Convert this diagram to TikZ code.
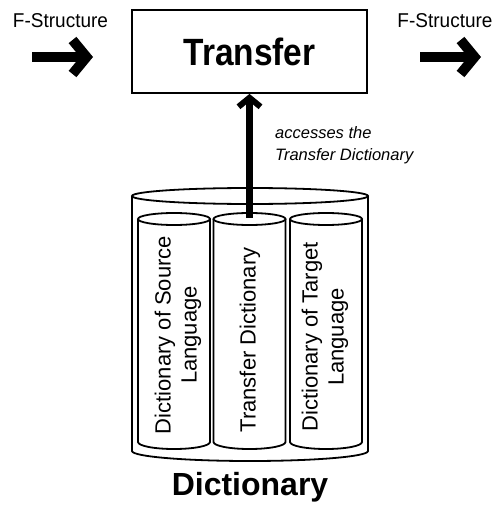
\documentclass[tikz,border=0pt]{standalone}
\usepackage{fontspec}
\setmainfont{Liberation Sans}
\usetikzlibrary{arrows.meta}

\tikzset{
  outline/.style={line width=1.8pt},
  titlebox/.style={draw, outline, minimum width=235pt, minimum height=83pt,
    inner sep=0pt, font=\fontsize{38}{40}\selectfont\bfseries},
  flabel/.style={font=\fontsize{20}{22}\selectfont, inner sep=0pt, anchor=base},
  fatarrow/.style={line width=10pt,
    -{Straight Barb[length=14pt, width=34pt, line width=10pt]}},
  lookup/.style={line width=7pt,
    -{Straight Barb[length=9pt, width=22pt, line width=6pt]}},
  spine/.style={rotate=90, align=center, inner sep=0pt,
    font=\fontsize{22}{26}\selectfont},
  note/.style={font=\fontsize{16.5}{22}\selectfont\itshape, align=left,
    inner sep=0pt, anchor=base west},
  biglabel/.style={font=\fontsize{32}{34}\selectfont\bfseries, inner sep=0pt,
    anchor=base},
  drum/.style={outline, fill=white}
}

\begin{document}
\begin{tikzpicture}[x=1pt, y=-1pt]
  \useasboundingbox[fill=white] (0,0) rectangle (499,508);

  % Transfer stage
  \node[titlebox] (transfer) at (249.5,51.5) {\scalebox{0.88}[1]{Transfer}};

  % incoming and outgoing F-structures
  \node[flabel] (fin)  at (60.5,28) {\scalebox{0.95}[1]{F-Structure}};
  \node[flabel] (fout) at (445,28)  {\scalebox{0.95}[1]{F-Structure}};
  \coordinate (inA)  at (32,57);
  \coordinate (inB)  at (93,57);
  \coordinate (outA) at (420,57);
  \coordinate (outB) at (481,57);
  \draw[fatarrow] (inA) -- (inB);
  \draw[fatarrow] (outA) -- (outB);

  % outer dictionary drum
  \draw[drum] (132,196) -- (132,451)
    arc[start angle=180, end angle=360, x radius=118pt, y radius=10pt]
    -- (368,196);
  \draw[outline] (250,196) ellipse[x radius=118pt, y radius=8pt];

  % three inner dictionaries
  \foreach \cx/\nm in {174/src, 249.5/mid, 326/tgt}{
    \draw[drum] (\cx-36,219) -- (\cx-36,442)
      arc[start angle=180, end angle=360, x radius=36pt, y radius=7pt]
      -- (\cx+36,219);
    \draw[drum] (\cx,219) ellipse[x radius=36pt, y radius=6pt];
    \coordinate (\nm top) at (\cx,218);
  }

  \node[spine] (srcdict) at (178,335) {Dictionary of Source\\Language};
  \node[spine] (middict) at (250,340) {Transfer Dictionary};
  \node[spine] (tgtdict) at (325,337) {Dictionary of Target\\Language};

  % lookup into the transfer dictionary
  \draw[lookup] (midtop) -- (transfer.south);
  % base anchor of a two-line node sits on its last line
  \node[note] (access) at (275,160) {accesses the\\Transfer Dictionary};

  \node[biglabel] (dict) at (250,495) {Dictionary};
\end{tikzpicture}
\end{document}
